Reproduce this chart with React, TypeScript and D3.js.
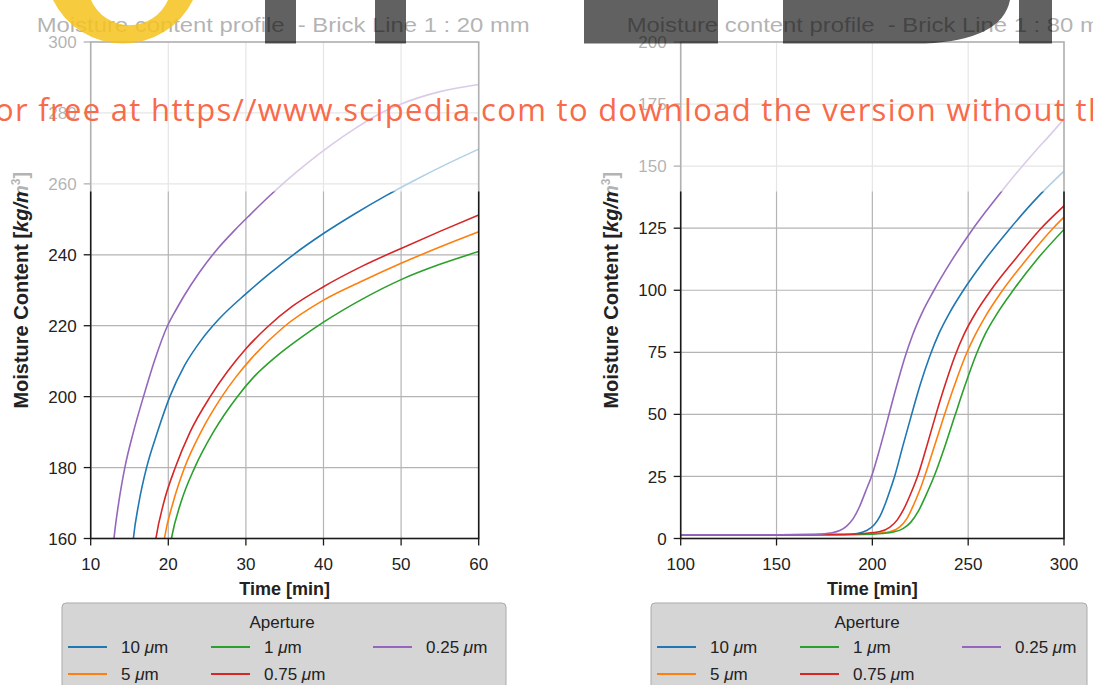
import React from 'react';
import * as d3 from 'd3';

type Pt = [number, number];

// legend order follows the tab10 colour cycle
const apertures = ['10', '5', '1', '0.75', '0.25'];
const colors = ['#1f77b4', '#ff7f0e', '#2ca02c', '#d62728', '#9467bd'];

// Brick line 1 : 20 mm  -- [time min, moisture kg/m3]
const line20_10: Pt[] = [[15.1, 150], [15.5, 160], [16.2, 170], [17.2, 180], [18.6, 190], [20.2, 200], [22.1, 208.8], [24.2, 215.8], [26.5, 221.8], [30, 229], [33, 234.6], [36.1, 240], [40, 246], [44, 251.5], [48, 256.6], [52, 261.3], [56, 265.7], [60, 269.8]];
const line20_5: Pt[] = [[18.9, 150], [19.5, 160], [20.6, 170], [22.1, 180], [24.2, 190], [26.9, 200], [28.7, 205.5], [30.8, 211], [34.8, 219.5], [40, 227.2], [45, 232.6], [50, 237.6], [55, 242.2], [60, 246.5]];
const line20_1: Pt[] = [[19.7, 150], [20.4, 160], [21.6, 170], [23.4, 180], [25.8, 190], [28.9, 200], [31, 205.5], [34, 211.5], [37, 216.5], [40, 221], [45, 227.5], [50, 233], [55, 237.3], [60, 240.9]];
const line20_075: Pt[] = [[17.8, 150], [18.4, 160], [19.4, 170], [20.9, 180], [22.8, 190], [25.4, 200], [27.6, 207], [30, 213.5], [32.7, 219.5], [36, 225.5], [40, 231], [45, 236.8], [50, 241.8], [55, 246.6], [60, 251.2]];
const line20_025: Pt[] = [[12.6, 150], [13.0, 160], [13.6, 170], [14.4, 180], [15.5, 190], [16.8, 200], [18.2, 210], [19.9, 220], [21, 224.5], [22, 228.3], [24, 235], [26.2, 241.3], [28.5, 246.8], [30.5, 251.2], [33, 256.5], [35, 260.5], [38, 266], [41, 271], [44, 275.5], [47, 279.5], [50, 282.5], [55, 286], [60, 288]];

// Brick line 1 : 80 mm
const line80_10: Pt[] = [[100, 1.5], [150, 1.5], [185, 1.6], [192, 2.0], [197, 3.2], [201, 5.5], [204, 9], [207, 14.5], [209.5, 20], [211.8, 25.5], [216, 37.5], [220.5, 50], [225, 62], [230, 73.5], [235, 83], [240, 90.5], [247.5, 100], [258, 111.5], [270.9, 124], [287.5, 138.5], [300, 148]];
const line80_5: Pt[] = [[100, 1.5], [150, 1.5], [190, 1.6], [200, 2.0], [209, 2.7], [214, 4.5], [218, 8], [221.5, 13.5], [224.5, 19], [227.5, 25.5], [232.5, 37.5], [237.5, 49.5], [243, 62], [248.3, 73], [253, 81], [259, 89.5], [267.5, 99.5], [280, 112], [294.3, 125], [300, 129.5]];
const line80_1: Pt[] = [[100, 1.5], [150, 1.5], [195, 1.6], [205, 2.0], [211, 2.6], [216, 4], [220, 6.5], [224, 11], [228, 17.5], [232.7, 26], [238, 37.5], [243.1, 49.5], [248.5, 62], [254.4, 74.5], [259, 82.5], [265, 90.5], [273.5, 100], [286, 112.5], [300, 124.5]];
const line80_075: Pt[] = [[100, 1.5], [150, 1.5], [185, 1.6], [195, 2.0], [204, 2.8], [209, 4.5], [213, 7.5], [216.5, 12], [220, 18], [224, 26], [228.5, 37.5], [233, 49.5], [238, 62], [243.1, 73.5], [248, 82.5], [254, 91], [262.3, 100.5], [274, 112], [287.5, 124.5], [300, 134]];
const line80_025: Pt[] = [[100, 1.5], [150, 1.5], [170, 1.6], [178, 2.2], [183, 3.2], [186.6, 5], [190, 8], [193.4, 13], [196.5, 19], [200, 26], [204, 36.5], [208, 48], [212.5, 61], [217, 73], [221, 82], [226, 91], [231.8, 99.5], [241, 111.5], [251.8, 124], [259, 131.5], [266.6, 139], [275, 147], [285, 156], [293, 162.8], [300, 169]];

const ticksX20 = [10, 20, 30, 40, 50, 60];
const ticksY20 = [160, 180, 200, 220, 240, 260, 280, 300];
const ticksX80 = [100, 150, 200, 250, 300];
const ticksY80 = [0, 25, 50, 75, 100, 125, 150, 175, 200];

const FONT = 'Liberation Sans, Arial, Helvetica, sans-serif';

const panels = [
  {
    id: 'p20', title: 'Moisture content profile  - Brick Line 1 : 20 mm',
    xDomain: [10, 60], yDomain: [160, 300], xTicks: ticksX20, yTicks: ticksY20,
    left: 90.7, right: 478.7, top: 42, bottom: 538.5,
    series: [line20_10, line20_5, line20_1, line20_075, line20_025],
    legendX: 62, legendW: 444,
  },
  {
    id: 'p80', title: 'Moisture content profile  - Brick Line 1 : 80 mm',
    xDomain: [100, 300], yDomain: [0, 200], xTicks: ticksX80, yTicks: ticksY80,
    left: 680.7, right: 1064, top: 42, bottom: 538.5,
    series: [line80_10, line80_5, line80_1, line80_075, line80_025],
    legendX: 651, legendW: 436,
  },
];

function Panel({ p }: { p: any }) {
  const x = d3.scaleLinear().domain(p.xDomain).range([p.left, p.right]);
  const y = d3.scaleLinear().domain(p.yDomain).range([p.bottom, p.top]);
  const line = d3.line<Pt>().x(d => x(d[0])).y(d => y(d[1])).curve(d3.curveMonotoneX);
  const cx = (p.left + p.right) / 2;
  const cy = (p.top + p.bottom) / 2;
  const colOff = [6, 149, 311];

  return (
    <g>
      <defs>
        <clipPath id={`clip-${p.id}`}>
          <rect x={p.left} y={p.top} width={p.right - p.left} height={p.bottom - p.top} />
        </clipPath>
      </defs>
      <text x={p.left - 54} y={31.5} fontSize={21} fill="#222" textLength={493} lengthAdjust="spacingAndGlyphs"
        style={{ whiteSpace: 'pre' }}>{p.title}</text>

      {/* grid */}
      {p.xTicks.map((t: number) => (
        <line key={`gx${t}`} x1={x(t)} x2={x(t)} y1={p.top} y2={p.bottom} stroke="#b4b4b4" strokeWidth={1.2} />
      ))}
      {p.yTicks.map((t: number) => (
        <line key={`gy${t}`} x1={p.left} x2={p.right} y1={y(t)} y2={y(t)} stroke="#b4b4b4" strokeWidth={1.2} />
      ))}

      <g clipPath={`url(#clip-${p.id})`}>
        {p.series.map((s: Pt[], i: number) => (
          <path key={i} d={line(s) || ''} fill="none" stroke={colors[i]} strokeWidth={1.6} />
        ))}
      </g>

      {/* frame */}
      <rect x={p.left} y={p.top} width={p.right - p.left} height={p.bottom - p.top} fill="none" stroke="#1a1a1a" strokeWidth={1.6} />

      {/* y axis */}
      {p.yTicks.map((t: number) => (
        <g key={`ty${t}`}>
          <line x1={p.left - 7} x2={p.left} y1={y(t)} y2={y(t)} stroke="#1a1a1a" strokeWidth={1.3} />
          <text x={p.left - 14} y={y(t)} dy="0.36em" textAnchor="end" fontSize={17} fill="#222">{t}</text>
        </g>
      ))}
      {/* x axis */}
      {p.xTicks.map((t: number) => (
        <g key={`tx${t}`}>
          <line x1={x(t)} x2={x(t)} y1={p.bottom} y2={p.bottom + 7} stroke="#1a1a1a" strokeWidth={1.3} />
          <text x={x(t)} y={p.bottom + 31} textAnchor="middle" fontSize={17} fill="#222">{t}</text>
        </g>
      ))}
      <text x={cx} y={594.5} textAnchor="middle" fontSize={18} fontWeight="bold" fill="#222">Time [min]</text>
      <text transform={`translate(${p.left - 62.5},${cy}) rotate(-90)`} textAnchor="middle" fontSize={20} fontWeight="bold" fill="#222">
        Moisture Content [<tspan fontStyle="italic">kg/m</tspan><tspan fontSize={12} dy={-8}>3</tspan><tspan dy={8}>]</tspan>
      </text>

      {/* legend */}
      <rect x={p.legendX} y={603} width={p.legendW} height={100} rx={4} fill="#d5d5d5" stroke="#ababab" strokeWidth={1} />
      <text x={p.legendX + p.legendW / 2 - 2} y={628} textAnchor="middle" fontSize={17} fill="#222">Aperture</text>
      {apertures.map((a, i) => {
        const col = Math.floor(i / 2);
        const row = i % 2;
        const lx = p.legendX + colOff[col];
        const ly = 647 + row * 27;
        return (
          <g key={a}>
            <line x1={lx} x2={lx + 39} y1={ly} y2={ly} stroke={colors[i]} strokeWidth={2} />
            <text x={lx + 53} y={ly} dy="0.36em" fontSize={17} fill="#222">
              {a + ' '}<tspan fontStyle="italic">μ</tspan>m
            </text>
          </g>
        );
      })}
    </g>
  );
}

function Watermark() {
  return (
    <g>
      <rect x={0} y={0} width={1093} height={191.5} fill="#fff" opacity={0.66} />
      <path d="M53,0 A78,78 0 0 0 193,0 L168,0 A42,42 0 0 1 91,0 Z" fill="#f6c21c" opacity={0.85} />
      <rect x={265} y={0} width={31} height={43.5} fill="#000" opacity={0.62} />
      <rect x={375} y={0} width={31} height={43.5} fill="#000" opacity={0.62} />
      <rect x={584} y={0} width={134} height={43.5} fill="#000" opacity={0.62} />
      <path d="M783,0 L783,43.5 L925,43.5 Q1002,40 1010,0 Z" fill="#000" opacity={0.62} />
      <rect x={1019} y={0} width={33} height={43.5} fill="#000" opacity={0.62} />
      <text x={-5} y={121} fontSize={31} fill="#f96a4b" fontFamily="'Open Sans', 'Noto Sans', sans-serif"
        textLength={1112} lengthAdjust="spacing">or free at https//www.scipedia.com to download the version without th</text>
    </g>
  );
}

export default function App() {
  return (
    <svg width={1093} height={685} style={{ position: 'absolute', left: 0, top: 0 }} fontFamily={FONT}>
      <rect width={1093} height={685} fill="#fff" />
      {panels.map(p => <Panel key={p.id} p={p} />)}
      <Watermark />
    </svg>
  );
}
